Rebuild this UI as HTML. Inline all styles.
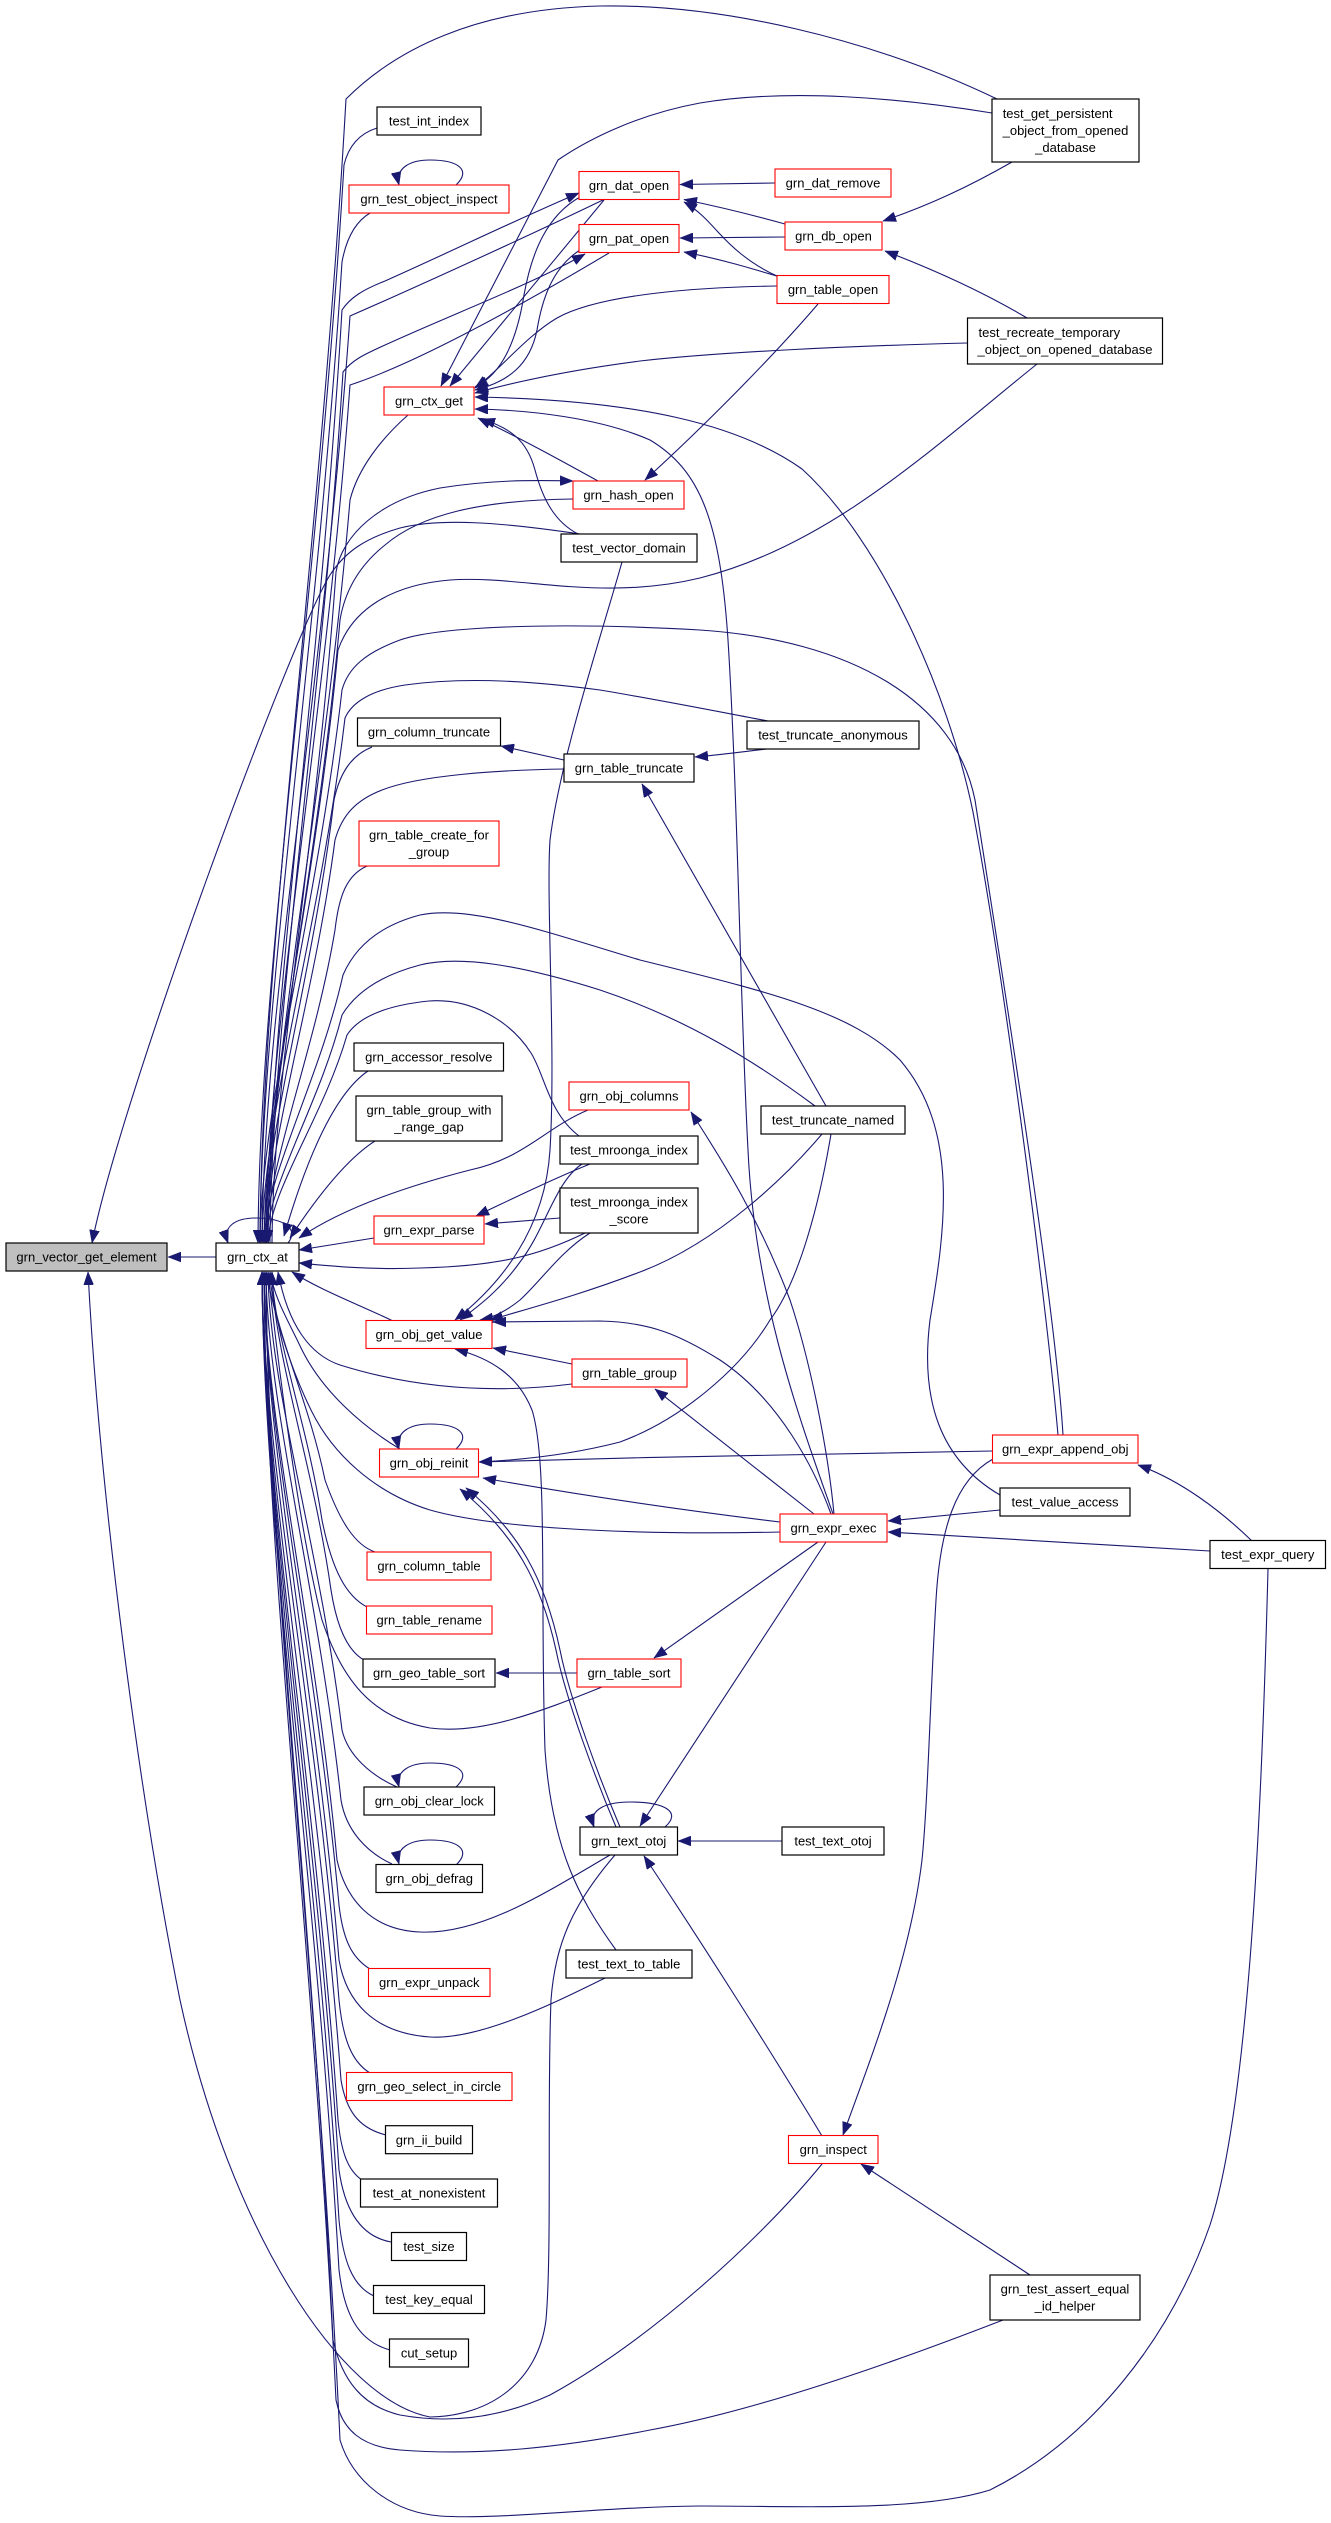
<!DOCTYPE html>
<html><head><meta charset="utf-8"><style>
html,body{margin:0;padding:0;background:#fff;}
svg{display:block;}
text{font-family:"Liberation Sans",Arial,sans-serif;font-size:13px;fill:#000;}
.e path{fill:none;stroke:#191970;stroke-width:1.1;}
.n rect{fill:#fff;stroke:#000;stroke-width:1.2;}
.n rect.r{stroke:#ff0000;stroke-width:1.1;}
</style></head><body>
<svg width="1331" height="2523" viewBox="0 0 1331 2523" xmlns="http://www.w3.org/2000/svg">
<defs><marker id="a" markerUnits="userSpaceOnUse" markerWidth="14" markerHeight="10" refX="13" refY="5" orient="auto"><path d="M0,0 L13,5 L0,10 z" fill="#191970" stroke="#191970" stroke-width="0.5"/></marker></defs>
<rect width="1331" height="2523" fill="#fff"/>
<g class="e">
<path marker-end="url(#a)" d="M997,99 C870,38 720,4 600,6 C475,9 395,50 346,99 C320,557 261,957 260,1243"/>
<path marker-end="url(#a)" d="M992,113 C900,98 790,88 700,103 C640,114 590,138 558,160 L441,386"/>
<path marker-end="url(#a)" d="M1012,162 C970,186 930,205 883,221"/>
<path marker-end="url(#a)" d="M1027,318 C990,296 940,272 885,251"/>
<path marker-end="url(#a)" d="M967,343 C850,346 720,352 640,361 C570,370 515,382 475,393"/>
<path marker-end="url(#a)" d="M1037,364 C930,450 830,545 700,578 C600,602 520,575 450,580 C390,585 352,610 338,650 C316,887 265,1095 264,1243"/>
<path marker-end="url(#a)" d="M775,183 L680,184.5"/>
<path marker-end="url(#a)" d="M785,224 C760,217 720,207 684,199.5"/>
<path marker-end="url(#a)" d="M785,237 L680,238"/>
<path marker-end="url(#a)" d="M777,276 C748,263 730,245 718,232 C708,221 698,210 684,202"/>
<path marker-end="url(#a)" d="M780,277 C750,268 720,259 684,252"/>
<path marker-end="url(#a)" d="M818,304 C770,360 700,430 645,480"/>
<path marker-end="url(#a)" d="M777,286 C700,287 600,294 557,318 C525,337 500,370 475,388"/>
<path marker-end="url(#a)" d="M268,1243 C269,1010 320,683 342,310 C350,298 362,290 385,281 C450,252 520,218 579,193"/>
<path marker-end="url(#a)" d="M605,199 C520,240 405,292 350,316 C324,687 263,1011 262,1243"/>
<path marker-end="url(#a)" d="M604,200 L450,386"/>
<path marker-end="url(#a)" d="M580,197 C548,215 532,250 524,295 C516,345 500,375 475,387"/>
<path marker-end="url(#a)" d="M270,1243 C271,1025 321,720 343,372 C352,360 365,354 385,345 C455,313 530,285 585,254"/>
<path marker-end="url(#a)" d="M609,253 C530,300 420,362 350,385 C325,728 267,1029 266,1243"/>
<path marker-end="url(#a)" d="M580,250 C552,268 542,300 537,330 C530,365 508,382 475,390"/>
<path marker-end="url(#a)" d="M408,415 C382,438 358,468 350,500 C325,797 269,1057 268,1243"/>
<path marker-end="url(#a)" d="M272,1243 C273,1075 317,840 336,572 C342,535 380,500 440,488 C490,480 530,480 573,481"/>
<path marker-end="url(#a)" d="M573,499 C480,500 420,515 385,545 C360,565 345,590 340,620 C318,869 267,1087 266,1243"/>
<path marker-end="url(#a)" d="M598,481 C560,460 520,438 478,418"/>
<path marker-end="url(#a)" d="M578,534 C555,522 543,500 535,470 C527,440 510,428 482,419"/>
<path marker-end="url(#a)" d="M580,534 C500,522 440,518 400,528 C365,538 345,552 330,575 C290,640 120,1100 92,1243"/>
<path marker-end="url(#a)" d="M622,562 C600,640 560,760 550,840 C546,900 556,1050 550,1150 C545,1230 500,1285 455,1320"/>
<path marker-end="url(#a)" d="M377,128 C358,134 348,148 344,165 C318,596 259,973 258,1243"/>
<path marker-end="url(#a)" d="M370,213 C355,222 346,240 342,262 C317,654 261,998 260,1243"/>
<path marker-end="url(#a)" d="M456,185 C472,170 458,160 430,160 C410,160 395,168 399,185"/>
<path marker-end="url(#a)" d="M372,747 C352,755 340,772 334,800 C313,977 265,1132 264,1243"/>
<path marker-end="url(#a)" d="M564,760 L501,746"/>
<path marker-end="url(#a)" d="M564,769 C500,770 420,775 382,790 C356,800 342,815 335,840 C314,1001 267,1142 266,1243"/>
<path marker-end="url(#a)" d="M767,749 C740,752 720,755 695,757"/>
<path marker-end="url(#a)" d="M768,721 C720,712 660,700 600,690 C540,682 470,676 405,685 C372,690 352,702 345,718 C320,928 263,1112 262,1243"/>
<path marker-end="url(#a)" d="M1063,1435 C1055,1300 1000,960 975,800 C955,700 850,640 700,630 C560,622 440,626 400,640 C365,653 348,668 342,690 C317,911 261,1105 260,1243"/>
<path marker-end="url(#a)" d="M1058,1435 C1048,1320 1008,1000 973,812 C948,690 880,540 802,469 C740,425 640,400 475,397"/>
<path marker-end="url(#a)" d="M833,1514 C800,1420 755,1300 748,1150 C740,1000 738,800 728,640 C720,520 700,470 650,440 C600,418 530,410 475,409"/>
<path marker-end="url(#a)" d="M815,1106 C760,1065 690,1020 600,990 C520,965 460,955 420,965 C382,975 356,992 342,1015 C319,1106 267,1186 266,1243"/>
<path marker-end="url(#a)" d="M1000,1495 C940,1460 920,1400 930,1320 C945,1230 960,1130 900,1060 C850,1010 760,990 640,960 C540,930 470,905 420,915 C382,925 356,945 343,975 C319,1082 265,1176 264,1243"/>
<path marker-end="url(#a)" d="M826,1106 L642,784"/>
<path marker-end="url(#a)" d="M822,1134 C790,1172 720,1242 640,1272 C580,1295 530,1308 490,1320"/>
<path marker-end="url(#a)" d="M831,1134 C820,1200 800,1280 770,1320 C740,1370 680,1420 620,1442 C570,1455 520,1460 479,1462"/>
<path marker-end="url(#a)" d="M368,1071 C340,1090 312,1140 284,1236"/>
<path marker-end="url(#a)" d="M375,1141 C345,1160 315,1200 290,1238"/>
<path marker-end="url(#a)" d="M588,1110 C545,1128 525,1158 470,1170 C400,1188 340,1210 299,1238"/>
<path marker-end="url(#a)" d="M579,1136 C548,1112 545,1075 531,1053 C510,1020 470,998 429,1001 C390,1005 360,1015 347,1035 C323,1118 269,1191 268,1243"/>
<path marker-end="url(#a)" d="M590,1164 C550,1180 510,1200 476,1216"/>
<path marker-end="url(#a)" d="M560,1218 L485,1224"/>
<path marker-end="url(#a)" d="M585,1233 C540,1255 500,1266 420,1268 C370,1270 330,1266 299,1263"/>
<path marker-end="url(#a)" d="M374,1238 L299,1250"/>
<path marker-end="url(#a)" d="M393,1321 C360,1305 320,1290 292,1272"/>
<path marker-end="url(#a)" d="M582,1164 C555,1182 545,1230 520,1262 C500,1290 480,1305 460,1320"/>
<path marker-end="url(#a)" d="M590,1233 C560,1252 540,1282 520,1300 C505,1312 492,1318 480,1320"/>
<path marker-end="url(#a)" d="M831,1514 C815,1470 780,1400 720,1360 C680,1335 650,1322 600,1321 L493,1322"/>
<path marker-end="url(#a)" d="M834,1514 C828,1450 810,1360 790,1300 C760,1220 722,1160 691,1112"/>
<path marker-end="url(#a)" d="M572,1364 L493,1348"/>
<path marker-end="url(#a)" d="M572,1384 C500,1393 420,1390 340,1365 C310,1355 288,1325 278,1272"/>
<path marker-end="url(#a)" d="M814,1514 L655,1389"/>
<path marker-end="url(#a)" d="M400,1449 C360,1425 322,1390 302,1350 C288,1320 275,1300 270,1272"/>
<path marker-end="url(#a)" d="M456,1449 C472,1434 458,1424 430,1424 C410,1424 395,1432 399,1449"/>
<path marker-end="url(#a)" d="M992,1451 C800,1454 650,1457 479,1462"/>
<path marker-end="url(#a)" d="M780,1522 C680,1510 580,1495 483,1478"/>
<path marker-end="url(#a)" d="M780,1532 C650,1535 500,1530 430,1510 C372,1492 332,1452 312,1412 C292,1372 276,1322 266,1272"/>
<path marker-end="url(#a)" d="M1000,1510 L888,1521"/>
<path marker-end="url(#a)" d="M1210,1551 C1100,1545 1000,1538 888,1532"/>
<path marker-end="url(#a)" d="M1252,1541 C1220,1510 1180,1480 1138,1465"/>
<path marker-end="url(#a)" d="M993,1459 C955,1480 940,1530 936,1600 C930,1700 928,1800 922,1860 C910,1960 870,2060 843,2135"/>
<path marker-end="url(#a)" d="M577,1673 L496,1673"/>
<path marker-end="url(#a)" d="M602,1687 C540,1712 480,1735 430,1728 C372,1718 342,1680 322,1620 C302,1540 282,1400 268,1272"/>
<path marker-end="url(#a)" d="M818,1542 L654,1658"/>
<path marker-end="url(#a)" d="M826,1542 L640,1826"/>
<path marker-end="url(#a)" d="M364,1660 C346,1650 336,1622 331,1590 C313,1463 273,1352 272,1272"/>
<path marker-end="url(#a)" d="M367,1607 C346,1596 332,1570 322,1520 C307,1421 273,1334 272,1272"/>
<path marker-end="url(#a)" d="M375,1552 C355,1545 340,1522 325,1480 C308,1397 271,1324 270,1272"/>
<path marker-end="url(#a)" d="M397,1787 C372,1776 348,1756 342,1730 C320,1547 269,1387 268,1272"/>
<path marker-end="url(#a)" d="M456,1787 C472,1772 458,1763 430,1763 C410,1763 395,1771 399,1787"/>
<path marker-end="url(#a)" d="M392,1864 C366,1852 346,1830 341,1800 C318,1589 267,1404 266,1272"/>
<path marker-end="url(#a)" d="M456,1865 C472,1850 458,1840 430,1840 C410,1840 395,1848 399,1864"/>
<path marker-end="url(#a)" d="M610,1855 C550,1890 482,1935 420,1932 C372,1930 346,1900 337,1860 C315,1625 265,1419 264,1272"/>
<path marker-end="url(#a)" d="M665,1827 C682,1812 665,1802 630,1802 C605,1802 588,1810 594,1827"/>
<path marker-end="url(#a)" d="M782,1841 L678,1841"/>
<path marker-end="url(#a)" d="M620,1827 C600,1780 570,1700 560,1650 C545,1580 520,1532 466,1488"/>
<path marker-end="url(#a)" d="M616,1827 C596,1780 566,1700 556,1650 C541,1582 515,1534 460,1489"/>
<path marker-end="url(#a)" d="M616,1950 C580,1900 552,1850 545,1750 C540,1600 548,1460 532,1410 C518,1375 490,1358 455,1349"/>
<path marker-end="url(#a)" d="M605,1978 C560,2000 482,2040 430,2037 C372,2033 346,2000 339,1960 C316,1685 265,1444 264,1272"/>
<path marker-end="url(#a)" d="M370,1969 C352,1958 343,1940 339,1905 C316,1652 265,1430 264,1272"/>
<path marker-end="url(#a)" d="M370,2073 C352,2062 343,2040 339,2000 C316,1709 263,1454 262,1272"/>
<path marker-end="url(#a)" d="M386,2135 C358,2128 346,2110 341,2080 C317,1757 263,1474 262,1272"/>
<path marker-end="url(#a)" d="M362,2180 C347,2170 341,2150 338,2120 C315,1781 263,1484 262,1272"/>
<path marker-end="url(#a)" d="M391,2242 C358,2236 344,2205 339,2170 C316,1811 263,1497 262,1272"/>
<path marker-end="url(#a)" d="M374,2296 C352,2286 343,2260 339,2220 C316,1841 263,1509 262,1272"/>
<path marker-end="url(#a)" d="M390,2350 C357,2341 344,2312 339,2270 C316,1871 263,1522 262,1272"/>
<path marker-end="url(#a)" d="M615,1855 C572,1905 555,1945 551,2000 C547,2100 552,2250 546,2320 C538,2382 490,2416 430,2417 C340,2400 230,2230 180,2000 C140,1800 100,1500 88,1272"/>
<path marker-end="url(#a)" d="M822,2164 C760,2240 650,2340 550,2395 C500,2418 450,2424 400,2415 C362,2406 342,2380 333,2340 C313,1913 267,1539 266,1272"/>
<path marker-end="url(#a)" d="M1003,2320 C900,2360 760,2410 650,2430 C560,2448 480,2456 400,2450 C362,2447 342,2430 336,2400 C314,1949 265,1554 264,1272"/>
<path marker-end="url(#a)" d="M822,2136 C770,2050 700,1940 644,1856"/>
<path marker-end="url(#a)" d="M1030,2275 L861,2164"/>
<path marker-end="url(#a)" d="M1268,1569 C1262,1800 1250,2100 1210,2225 C1170,2340 1090,2440 990,2490 C920,2512 800,2506 700,2506 C600,2507 500,2520 440,2516 C390,2512 352,2480 340,2440 C318,1973 267,1564 266,1272"/>
<path marker-end="url(#a)" d="M216,1257 L168,1257"/>
<path marker-end="url(#a)" d="M288,1243 C300,1228 282,1218 256,1218 C236,1218 222,1226 228,1243"/>
<path marker-end="url(#a)" d="M367,866 C347,875 339,895 335,930 C314,1055 267,1165 266,1243"/>
</g>
<g class="n" text-anchor="middle">
<rect x="6" y="1243" width="161" height="28" style="fill:#bfbfbf"/><text x="86.5" y="1261.7">grn_vector_get_element</text>
<rect x="216" y="1243" width="83" height="28"/><text x="257.5" y="1261.7">grn_ctx_at</text>
<rect x="377" y="107" width="104" height="28"/><text x="429" y="125.7">test_int_index</text>
<rect class="r" x="349" y="185" width="160" height="28"/><text x="429" y="203.7">grn_test_object_inspect</text>
<rect class="r" x="579" y="171.5" width="100" height="28"/><text x="629" y="190.2">grn_dat_open</text>
<rect class="r" x="579" y="224.5" width="100" height="28"/><text x="629" y="243.2">grn_pat_open</text>
<rect class="r" x="384" y="387" width="90" height="28"/><text x="429" y="405.7">grn_ctx_get</text>
<rect class="r" x="573" y="481" width="111" height="28"/><text x="628.5" y="499.7">grn_hash_open</text>
<rect x="561" y="534" width="136" height="28"/><text x="629" y="552.7">test_vector_domain</text>
<rect class="r" x="775" y="169" width="116" height="28"/><text x="833" y="187.7">grn_dat_remove</text>
<rect class="r" x="785" y="222" width="97" height="28"/><text x="833.5" y="240.7">grn_db_open</text>
<rect class="r" x="777" y="275.5" width="112" height="28"/><text x="833" y="294.2">grn_table_open</text>
<rect x="992" y="99" width="147" height="63"/><text x="1002.7" y="118.2" text-anchor="start">test_get_persistent</text><text x="1065.5" y="135.2">_object_from_opened</text><text x="1065.5" y="152.2">_database</text>
<rect x="967.5" y="318" width="195" height="46"/><text x="978.5" y="337.2" text-anchor="start">test_recreate_temporary</text><text x="1065" y="354.2">_object_on_opened_database</text>
<rect x="357.5" y="718" width="143" height="28"/><text x="429" y="736.7">grn_column_truncate</text>
<rect x="564" y="754" width="130" height="28"/><text x="629" y="772.7">grn_table_truncate</text>
<rect x="747" y="721" width="172" height="28"/><text x="833" y="739.7">test_truncate_anonymous</text>
<rect class="r" x="359" y="821" width="140" height="45"/><text x="429" y="839.7">grn_table_create_for</text><text x="429" y="856.7">_group</text>
<rect x="354" y="1043" width="149.5" height="28"/><text x="428.75" y="1061.7">grn_accessor_resolve</text>
<rect x="356" y="1096" width="146" height="45"/><text x="429" y="1114.7">grn_table_group_with</text><text x="429" y="1131.7">_range_gap</text>
<rect class="r" x="569" y="1082" width="120" height="28"/><text x="629" y="1100.7">grn_obj_columns</text>
<rect x="560" y="1136" width="138" height="28"/><text x="629" y="1154.7">test_mroonga_index</text>
<rect x="560" y="1188" width="138" height="45"/><text x="629" y="1206.7">test_mroonga_index</text><text x="629" y="1223.7">_score</text>
<rect x="761" y="1106" width="144" height="28"/><text x="833" y="1124.7">test_truncate_named</text>
<rect class="r" x="374" y="1216" width="110" height="28"/><text x="429" y="1234.7">grn_expr_parse</text>
<rect class="r" x="366" y="1320.5" width="126" height="28"/><text x="429" y="1339.2">grn_obj_get_value</text>
<rect class="r" x="572" y="1359" width="115" height="28"/><text x="629.5" y="1377.7">grn_table_group</text>
<rect class="r" x="379.5" y="1449" width="99" height="28"/><text x="429" y="1467.7">grn_obj_reinit</text>
<rect class="r" x="367" y="1552" width="124" height="28"/><text x="429" y="1570.7">grn_column_table</text>
<rect class="r" x="366.5" y="1606" width="125.5" height="28"/><text x="429.25" y="1624.7">grn_table_rename</text>
<rect x="363" y="1659" width="132" height="28"/><text x="429" y="1677.7">grn_geo_table_sort</text>
<rect class="r" x="577" y="1659" width="104" height="28"/><text x="629" y="1677.7">grn_table_sort</text>
<rect x="364" y="1787" width="130.5" height="28"/><text x="429.25" y="1805.7">grn_obj_clear_lock</text>
<rect x="376" y="1864.5" width="106.5" height="28"/><text x="429.25" y="1883.2">grn_obj_defrag</text>
<rect x="580" y="1827" width="97.5" height="28"/><text x="628.75" y="1845.7">grn_text_otoj</text>
<rect x="566" y="1950" width="126" height="28"/><text x="629" y="1968.7">test_text_to_table</text>
<rect class="r" x="368.5" y="1968.5" width="121.5" height="28"/><text x="429.25" y="1987.2">grn_expr_unpack</text>
<rect class="r" x="346.5" y="2072.5" width="165.5" height="28"/><text x="429.25" y="2091.2">grn_geo_select_in_circle</text>
<rect x="385.5" y="2125.7" width="87" height="28"/><text x="429" y="2144.4">grn_ii_build</text>
<rect x="360.5" y="2179" width="137" height="28"/><text x="429" y="2197.7">test_at_nonexistent</text>
<rect x="391.5" y="2232.5" width="75" height="28"/><text x="429" y="2251.2">test_size</text>
<rect x="373.5" y="2285.5" width="111" height="28"/><text x="429" y="2304.2">test_key_equal</text>
<rect x="389.5" y="2339" width="79" height="28"/><text x="429" y="2357.7">cut_setup</text>
<rect class="r" x="992.5" y="1435" width="145.5" height="28"/><text x="1065.25" y="1453.7">grn_expr_append_obj</text>
<rect x="1000" y="1488" width="130" height="28"/><text x="1065" y="1506.7">test_value_access</text>
<rect class="r" x="780" y="1514" width="107" height="28"/><text x="833.5" y="1532.7">grn_expr_exec</text>
<rect x="1210" y="1540.5" width="115.5" height="28"/><text x="1267.75" y="1559.2">test_expr_query</text>
<rect x="782" y="1827" width="102" height="28"/><text x="833" y="1845.7">test_text_otoj</text>
<rect class="r" x="788.5" y="2135.5" width="89.5" height="28"/><text x="833.25" y="2154.2">grn_inspect</text>
<rect x="990" y="2275" width="150" height="45"/><text x="1065" y="2293.7">grn_test_assert_equal</text><text x="1065" y="2310.7">_id_helper</text>
</g>
</svg>
</body></html>
